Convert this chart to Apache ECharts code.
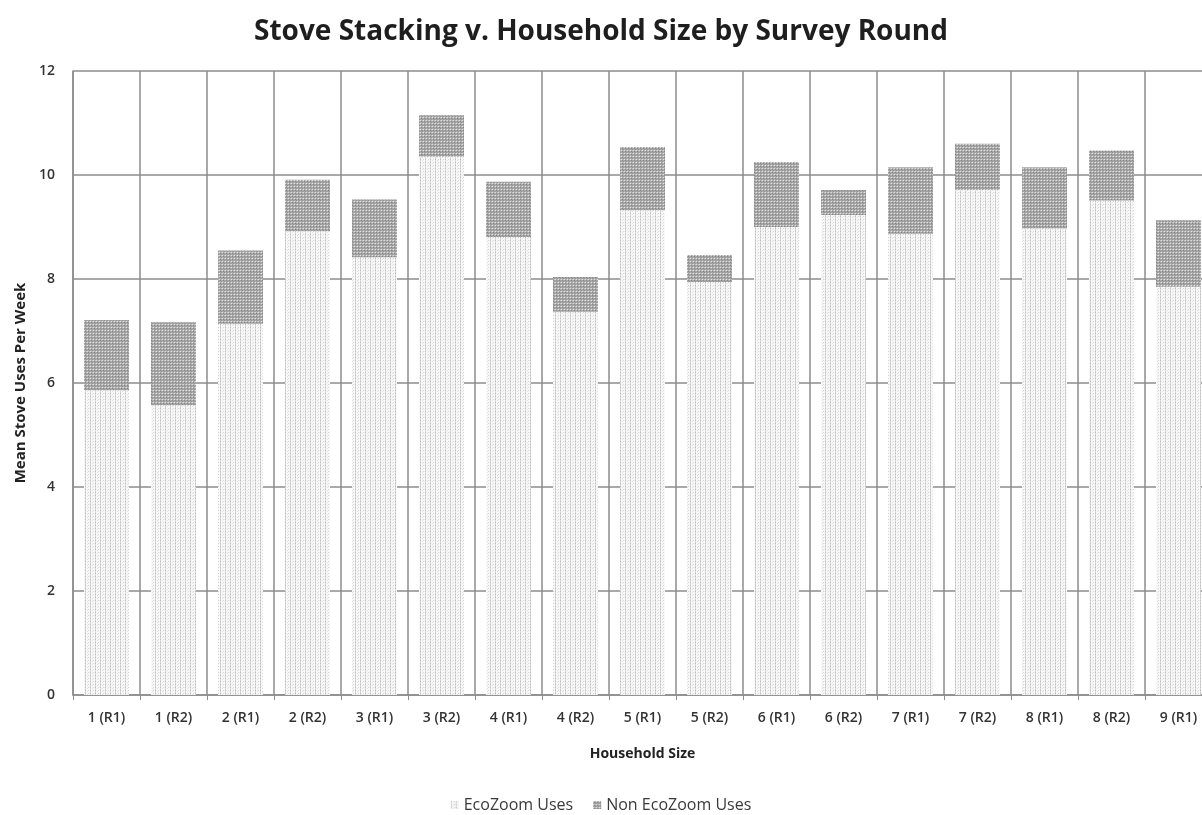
<!DOCTYPE html>
<html>
<head>
<meta charset="utf-8">
<title>Stove Stacking v. Household Size by Survey Round</title>
<script src="https://cdn.jsdelivr.net/npm/echarts@6/dist/echarts.min.js"></script>
<style>
  html, body { margin: 0; padding: 0; background: #ffffff; }
  #chart { width: 1202px; height: 815px; }
</style>
</head>
<body>
<div id="chart"></div>
<script>
// Household size and survey round
const categories = [
  '1 (R1)', '1 (R2)', '2 (R1)', '2 (R2)', '3 (R1)', '3 (R2)', '4 (R1)', '4 (R2)',
  '5 (R1)', '5 (R2)', '6 (R1)', '6 (R2)', '7 (R1)', '7 (R2)', '8 (R1)', '8 (R2)', '9 (R1)'
];

// Mean uses per week of the EcoZoom stove
const ecoZoomUses = [
  5.86, 5.57, 7.14, 8.92, 8.42, 10.35, 8.81, 7.37,
  9.32, 7.94, 9.00, 9.23, 8.87, 9.71, 8.97, 9.51, 7.85
];

// Mean uses per week of other stoves, stacked on top
const nonEcoZoomUses = [
  1.35, 1.60, 1.41, 0.99, 1.11, 0.80, 1.06, 0.67,
  1.22, 0.52, 1.25, 0.48, 1.28, 0.89, 1.18, 0.96, 1.28
];

const yTicks = [0, 2, 4, 6, 8, 10, 12];

// Small repeating fills for the two stacked series
function makePattern(w, h, bg, dots) {
  const c = document.createElement('canvas');
  c.width = w; c.height = h;
  const ctx = c.getContext('2d');
  ctx.fillStyle = bg;
  ctx.fillRect(0, 0, w, h);
  dots.forEach(function (d) {
    ctx.fillStyle = d[2];
    ctx.fillRect(d[0], d[1], 1, 1);
  });
  return { image: c, repeat: 'repeat' };
}

const ecoFill = makePattern(5, 3, '#f8f8f8', [
  [0, 0, '#bdbdbd'], [0, 1, '#dadada'], [0, 2, '#d2d2d2'], [2, 1, '#e2e2e2'], [3, 0, '#d6d6d6']
]);
const nonFill = makePattern(3, 3, '#a8a8a8', [
  [0, 0, '#e2e2e2'], [1, 1, '#858585'], [2, 2, '#939393'], [2, 0, '#c0c0c0']
]);

const chart = echarts.init(document.getElementById('chart'), null, { renderer: 'canvas' });

const labelFont = '"Open Sans", "Liberation Sans", sans-serif';

chart.setOption({
  animation: false,
  backgroundColor: '#ffffff',
  title: {
    text: 'Stove Stacking v. Household Size by Survey Round',
    left: 'center',
    top: 13,
    textStyle: {
      fontFamily: labelFont,
      fontSize: 28,
      fontWeight: 'bold',
      color: '#1e1e1e'
    }
  },
  legend: {
    bottom: -3,
    left: 'center',
    itemWidth: 8,
    itemHeight: 8,
    itemGap: 20,
    icon: 'rect',
    textStyle: { fontFamily: labelFont, fontSize: 16, color: '#3a3a3a' },
    data: ['EcoZoom Uses', 'Non EcoZoom Uses']
  },
  grid: {
    left: 73,
    top: 71,
    width: 1139,
    height: 624,
    containLabel: false,
    outerBoundsMode: 'none'
  },
  xAxis: {
    type: 'category',
    data: categories,
    boundaryGap: true,
    name: 'Household Size',
    nameLocation: 'middle',
    nameGap: 52,
    nameTextStyle: { fontFamily: labelFont, fontSize: 14, fontWeight: 'bold', color: '#222' },
    axisLine: { show: true, lineStyle: { color: '#8c8c8c', width: 1.5 } },
    axisTick: { show: true, length: 5, interval: 0, lineStyle: { color: '#8c8c8c' } },
    axisLabel: {
      interval: 0,
      margin: 16,
      fontFamily: labelFont,
      fontSize: 14,
      fontWeight: 600,
      color: '#333'
    },
    splitLine: { show: true, interval: 0, lineStyle: { color: '#8c8c8c', width: 1.5 } }
  },
  yAxis: {
    type: 'value',
    min: yTicks[0],
    max: yTicks[yTicks.length - 1],
    interval: 2,
    name: 'Mean Stove Uses Per Week',
    nameLocation: 'middle',
    nameRotate: 90,
    nameGap: 45,
    nameTextStyle: { fontFamily: labelFont, fontSize: 15, fontWeight: 'bold', color: '#222' },
    axisLine: { show: true, lineStyle: { color: '#8c8c8c', width: 1.5 } },
    axisTick: { show: false },
    axisLabel: {
      margin: 18,
      fontFamily: labelFont,
      fontSize: 14,
      fontWeight: 600,
      color: '#333'
    },
    splitLine: { show: true, lineStyle: { color: '#8c8c8c', width: 1.5 } }
  },
  series: [
    {
      name: 'EcoZoom Uses',
      type: 'bar',
      stack: 'uses',
      barWidth: 45,
      data: ecoZoomUses,
      itemStyle: { color: ecoFill }
    },
    {
      name: 'Non EcoZoom Uses',
      type: 'bar',
      stack: 'uses',
      barWidth: 45,
      data: nonEcoZoomUses,
      itemStyle: { color: nonFill }
    }
  ]
});
</script>
</body>
</html>
